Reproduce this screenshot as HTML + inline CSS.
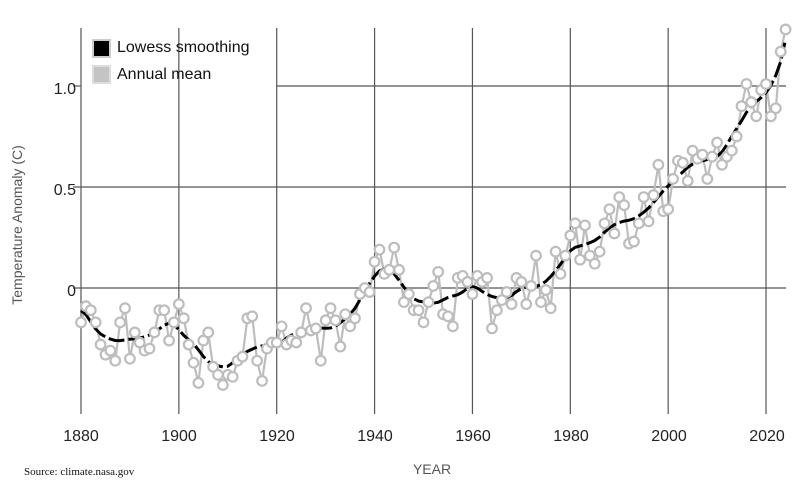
<!DOCTYPE html>
<html><head><meta charset="utf-8"><style>
html,body{margin:0;padding:0;background:#fff;width:800px;height:500px;overflow:hidden}
svg{display:block}
text{font-family:"Liberation Sans",Arial,sans-serif}
</style></head><body>
<svg id="c" width="800" height="500" xmlns="http://www.w3.org/2000/svg">
<g stroke="#555" stroke-width="1.2" id="grid"></g>
<g font-size="16" fill="#222" text-anchor="middle">
<text x="81" y="441">1880</text><text x="179" y="441">1900</text><text x="277" y="441">1920</text>
<text x="375" y="441">1940</text><text x="473" y="441">1960</text><text x="571" y="441">1980</text>
<text x="669" y="441">2000</text><text x="767" y="441">2020</text>
</g>
<g font-size="16" fill="#222" text-anchor="end">
<text x="76" y="94">1.0</text><text x="76" y="195">0.5</text><text x="76" y="296">0</text>
</g>
<text x="22" y="225" font-size="14" fill="#555" text-anchor="middle" transform="rotate(-90 22 225)">Temperature Anomaly (C)</text>
<text x="432" y="474" font-size="14" fill="#555" text-anchor="middle">YEAR</text>
<text x="24" y="475" font-size="11" fill="#111" style="font-family:'Liberation Serif',serif">Source: climate.nasa.gov</text>
<rect x="93" y="40" width="17" height="17" fill="#000" stroke="#ccc" stroke-width="2"/>
<rect x="93" y="66" width="17" height="17" fill="#c4c4c4" stroke="#ddd" stroke-width="2"/>
<text x="117" y="52" font-size="16" fill="#111">Lowess smoothing</text>
<text x="117" y="79" font-size="16" fill="#111">Annual mean</text>
<g id="data"></g>
</svg>
<script>
var d=[-0.17,-0.09,-0.11,-0.17,-0.28,-0.33,-0.31,-0.36,-0.17,-0.10,
-0.35,-0.22,-0.27,-0.31,-0.30,-0.22,-0.11,-0.11,-0.26,-0.17,
-0.08,-0.15,-0.28,-0.37,-0.47,-0.26,-0.22,-0.39,-0.43,-0.48,
-0.43,-0.44,-0.36,-0.34,-0.15,-0.14,-0.36,-0.46,-0.30,-0.27,
-0.27,-0.19,-0.28,-0.26,-0.27,-0.22,-0.10,-0.21,-0.20,-0.36,
-0.16,-0.10,-0.16,-0.29,-0.13,-0.19,-0.15,-0.03,-0.00,-0.02,
0.13,0.19,0.07,0.09,0.20,0.09,-0.07,-0.03,-0.11,-0.11,
-0.17,-0.07,0.01,0.08,-0.13,-0.14,-0.19,0.05,0.06,0.03,
-0.03,0.06,0.03,0.05,-0.20,-0.11,-0.06,-0.02,-0.08,0.05,
0.03,-0.08,0.01,0.16,-0.07,-0.01,-0.10,0.18,0.07,0.16,
0.26,0.32,0.14,0.31,0.16,0.12,0.18,0.32,0.39,0.27,
0.45,0.41,0.22,0.23,0.32,0.45,0.33,0.46,0.61,0.38,
0.39,0.54,0.63,0.62,0.53,0.68,0.64,0.66,0.54,0.65,
0.72,0.61,0.65,0.68,0.75,0.90,1.01,0.92,0.85,0.98,
1.01,0.85,0.89,1.17,1.28];
function X(y){return 81+(y-1880)*4.893}
function Y(v){return 288-v*202}
var NS="http://www.w3.org/2000/svg";
function el(p,t,a){var e=document.createElementNS(NS,t);for(var k in a)e.setAttribute(k,a[k]);p.appendChild(e);return e}
var g=document.getElementById("grid");
for(var yr=1880;yr<=2020;yr+=20){el(g,"line",{x1:X(yr),x2:X(yr),y1:28,y2:414});}
el(g,"line",{x1:277,x2:786,y1:86,y2:86});
el(g,"line",{x1:73,x2:81,y1:86,y2:86});
el(g,"line",{x1:73,x2:786,y1:187,y2:187});
el(g,"line",{x1:73,x2:786,y1:288,y2:288});
var D=document.getElementById("data");
var pts=d.map(function(v,i){return X(1880+i).toFixed(1)+","+Y(v).toFixed(1)}).join(" ");
el(D,"polyline",{points:pts,fill:"none",stroke:"#bdbdbd","stroke-width":2.2});
var n=d.length,sm=[],h=6;
for(var i=0;i<n;i++){var sw=0,sx=0,sy=0,sxx=0,sxy=0;
for(var j=0;j<n;j++){var u=Math.abs(j-i)/h;if(u>=1)continue;var w=Math.pow(1-u*u*u,3);
sw+=w;sx+=w*j;sy+=w*d[j];sxx+=w*j*j;sxy+=w*j*d[j];}
var mx=sx/sw,my=sy/sw,vx=sxx/sw-mx*mx,b=(sxy/sw-mx*my)/vx;sm.push(my+b*(i-mx));}
var sp=sm.map(function(v,i){return X(1880+i).toFixed(1)+","+Y(v).toFixed(1)}).join(" ");
el(D,"polyline",{points:sp,fill:"none",stroke:"#000","stroke-width":3,"stroke-dasharray":"16 4","stroke-linejoin":"round"});
d.forEach(function(v,i){el(D,"circle",{cx:X(1880+i),cy:Y(v),r:4.8,fill:"#fff",stroke:"#bdbdbd","stroke-width":2.2});});
</script>
</body></html>
